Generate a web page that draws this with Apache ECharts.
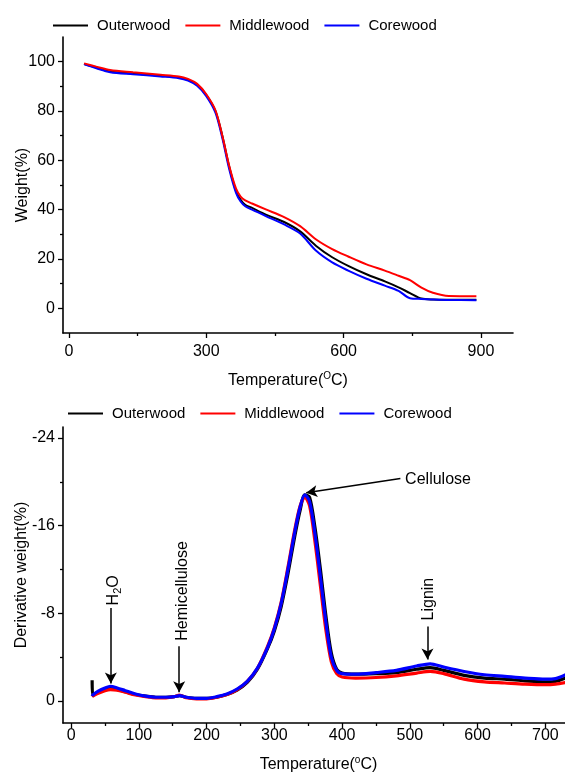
<!DOCTYPE html>
<html><head><meta charset="utf-8">
<script src="https://cdn.jsdelivr.net/npm/echarts@6/dist/echarts.min.js"></script>
<style>html,body{margin:0;padding:0;background:#fff}#c{width:565px;height:774px}</style>
</head><body><div id="c"></div>
<script>
const seriesNames = ['Outerwood', 'Middlewood', 'Corewood'];

// TGA (top panel)
const tgaTemp   = [33, 60, 90, 140, 200, 240, 260, 280, 300, 320, 335, 350, 365, 375, 385, 400, 430, 470, 505, 540, 575, 610, 650, 690, 720, 745, 770, 795, 830, 890];
const tgaOuter  = [99.0, 97.6, 96.0, 95.2, 94.3, 93.6, 92.6, 90.6, 86.5, 80.0, 70.0, 57.5, 47.5, 44.0, 42.0, 40.7, 38.0, 35.0, 31.2, 25.3, 20.7, 17.2, 13.8, 10.9, 8.5, 6.2, 4.0, 3.6, 3.5, 3.5];
const tgaMiddle = [99.3, 98.0, 96.6, 95.7, 94.7, 94.0, 93.0, 91.0, 86.8, 80.3, 70.0, 57.8, 48.5, 45.3, 43.8, 42.5, 40.1, 37.0, 33.3, 27.9, 24.0, 21.0, 17.8, 15.3, 13.2, 11.4, 8.4, 6.3, 5.0, 4.9];
const tgaCore   = [99.0, 97.3, 95.7, 94.9, 94.0, 93.3, 92.3, 90.2, 86.0, 79.3, 69.0, 56.5, 46.8, 43.3, 41.4, 40.0, 37.4, 34.0, 30.3, 23.3, 18.6, 15.3, 12.0, 9.2, 7.1, 4.1, 3.8, 3.6, 3.4, 3.3];

// DTG (bottom panel)
const dtgTemp   = [31, 32, 40, 50, 58, 68, 80, 95, 110, 125, 140, 152, 160, 170, 185, 200, 215, 230, 245, 260, 275, 290, 300, 310, 320, 330, 338, 345, 352, 360, 368, 376, 384, 392, 400, 420, 450, 480, 510, 530, 550, 580, 610, 640, 670, 700, 715, 730];
const dtgOuter  = [-1.9, -0.5, -0.8, -1.05, -1.15, -1.05, -0.85, -0.6, -0.45, -0.35, -0.35, -0.4, -0.5, -0.35, -0.25, -0.25, -0.35, -0.6, -1.0, -1.7, -2.9, -4.8, -6.4, -8.6, -11.6, -15.0, -17.4, -18.8, -18.6, -15.8, -12.0, -7.8, -4.4, -2.9, -2.55, -2.45, -2.5, -2.6, -2.9, -3.05, -2.8, -2.35, -2.1, -2.0, -1.85, -1.75, -1.8, -2.1];
const dtgMiddle = [-0.4, -0.45, -0.7, -0.95, -1.05, -1.0, -0.8, -0.55, -0.4, -0.3, -0.3, -0.4, -0.55, -0.3, -0.2, -0.2, -0.35, -0.6, -1.05, -1.8, -3.0, -5.0, -6.7, -9.0, -12.2, -15.6, -17.8, -18.6, -17.8, -14.5, -10.5, -6.5, -3.6, -2.5, -2.2, -2.1, -2.15, -2.3, -2.55, -2.7, -2.5, -2.0, -1.75, -1.65, -1.55, -1.5, -1.55, -1.7];
const dtgCore   = [-0.45, -0.55, -0.9, -1.2, -1.35, -1.2, -0.95, -0.65, -0.45, -0.35, -0.35, -0.4, -0.5, -0.35, -0.25, -0.25, -0.4, -0.65, -1.1, -1.8, -3.0, -4.9, -6.6, -8.9, -12.0, -15.4, -17.7, -18.8, -18.2, -15.2, -11.3, -7.2, -4.0, -2.8, -2.5, -2.45, -2.6, -2.8, -3.2, -3.4, -3.1, -2.7, -2.4, -2.25, -2.1, -2.0, -2.05, -2.4];

// Tick labels
const tgaXTicks = [0, 300, 600, 900];
const tgaXMinor = [150, 450, 750];
const tgaYTicks = [0, 20, 40, 60, 80, 100];
const tgaYMinor = [10, 30, 50, 70, 90];
const dtgXTicks = [0, 100, 200, 300, 400, 500, 600, 700];
const dtgXMinor = [50, 150, 250, 350, 450, 550, 650, 750];
const dtgYTicks = [-24, -16, -8, 0];
const dtgYMinor = [-20, -12, -4];

// Peak annotations (data coordinates)
const peakLabels = ['{n|H}{s|2}{n|O}', 'Hemicellulose', 'Cellulose', 'Lignin'];
const arrowFrom  = [[58.6, -8.5], [159.5, -5.0], [486, -20.3], [526, -6.8]];
const arrowTo    = [[58.6, -1.6], [159.5, -0.8], [347, -19.0], [526, -3.8]];
const labelAt    = [[62, -10.1], [164, -10.05], [493, -20.2], [528, -9.3]];

const colors = ['#000000', '#ff0000', '#0000ff'];
const FONT = '"Liberation Sans", Arial, sans-serif';
const pairs = (xs, ys) => xs.map((x, i) => [x, ys[i]]);

function mainX(grid, min, max, ticks, margin, gap, sup, namePad) {
  return {
    type: 'value', gridIndex: grid, min: min, max: max, position: 'bottom',
    name: 'Temperature({sup|' + sup + '}C)', nameLocation: 'middle', nameGap: gap, nameMoveOverlap: false,
    nameTextStyle: { fontSize: 16, color: '#000', fontFamily: FONT, lineHeight: 20, padding: namePad,
      rich: { sup: { fontSize: 10, verticalAlign: 'top', lineHeight: 20, padding: [0, 0, 6, 0], fontFamily: FONT, color: '#000' } } },
    axisLine: { show: true, onZero: false, lineStyle: { color: '#000', width: 1.6 } },
    axisTick: { show: true, inside: false, length: 5, customValues: ticks, lineStyle: { color: '#000', width: 1.3 } },
    axisLabel: { show: true, customValues: ticks, margin: margin, fontSize: 16, color: '#000', fontFamily: FONT, hideOverlap: false },
    splitLine: { show: false }
  };
}
function minorAxis(type, grid, min, max, ticks, inverse) {
  return {
    type: 'value', gridIndex: grid, min: min, max: max, inverse: !!inverse,
    position: type === 'x' ? 'bottom' : 'left', offset: 0,
    axisLine: { show: false, onZero: false },
    axisTick: { show: true, inside: false, length: 3, customValues: ticks, lineStyle: { color: '#000', width: 1.3 } },
    axisLabel: { show: false },
    splitLine: { show: false }
  };
}
function mainY(grid, min, max, ticks, name, gap, inverse) {
  return {
    type: 'value', gridIndex: grid, min: min, max: max, inverse: !!inverse, position: 'left',
    name: name, nameLocation: 'middle', nameGap: gap, nameRotate: 90, nameMoveOverlap: false,
    nameTextStyle: { fontSize: 16, color: '#000', fontFamily: FONT },
    axisLine: { show: true, onZero: false, lineStyle: { color: '#000', width: 1.6 } },
    axisTick: { show: true, inside: false, length: 5, customValues: ticks, lineStyle: { color: '#000', width: 1.3 } },
    axisLabel: { show: true, customValues: ticks, margin: 8, fontSize: 16, color: '#000', fontFamily: FONT },
    splitLine: { show: false }
  };
}

const legendBase = {
  icon: 'rect', itemWidth: 35, itemHeight: 2, itemGap: 15, padding: 0,
  textStyle: { fontSize: 15, color: '#000', fontFamily: FONT, padding: [0, 0, 0, 4] },
  data: seriesNames
};

const arrowLines = arrowFrom.map((f, i) => [{ coord: f }, { coord: arrowTo[i] }]);
const labelPoints = labelAt.map((c, i) => ({
  coord: c,
  label: i === 2
    ? { show: true, position: 'right', distance: 0, formatter: peakLabels[i], fontSize: 16, color: '#000', fontFamily: FONT }
    : { show: true, position: 'inside', rotate: 90, formatter: peakLabels[i], fontSize: 16, color: '#000', fontFamily: FONT,
        rich: { n: { fontSize: 16, lineHeight: 20, color: '#000', fontFamily: FONT },
                s: { fontSize: 11, verticalAlign: 'bottom', color: '#000', fontFamily: FONT, padding: [6, 0, 0, 0] } } }
}));

const topData = [tgaOuter, tgaMiddle, tgaCore];
const botData = [dtgOuter, dtgMiddle, dtgCore];
const topOrder = [0, 2, 1];
const botOrder = [0, 1, 2];
const series = [];
topOrder.forEach(k => series.push({
  type: 'line', name: seriesNames[k], xAxisIndex: 0, yAxisIndex: 0,
  data: pairs(tgaTemp, topData[k]), symbol: 'none', smooth: 0.3,
  lineStyle: { color: colors[k], width: 2 }, itemStyle: { color: colors[k] }, animation: false
}));
botOrder.forEach(k => series.push({
  type: 'line', name: seriesNames[k], xAxisIndex: 2, yAxisIndex: 2,
  data: pairs(dtgTemp, botData[k]), symbol: 'none', smooth: 0.3,
  lineStyle: { color: colors[k], width: 3.2 }, itemStyle: { color: colors[k] }, animation: false
}));
series.push({
  type: 'line', name: 'annotations', xAxisIndex: 2, yAxisIndex: 2, data: [], silent: true, animation: false,
  markLine: { silent: true, symbol: ['none', 'arrow'], symbolSize: [9, 11], animation: false,
    lineStyle: { color: '#000', width: 1.5, type: 'solid' }, label: { show: false }, data: arrowLines },
  markPoint: { silent: true, symbol: 'circle', symbolSize: 0, animation: false, data: labelPoints }
});

const chart = echarts.init(document.getElementById('c'), null, { renderer: 'canvas' });
chart.setOption({
  backgroundColor: '#fff',
  animation: false,
  textStyle: { fontFamily: FONT },
  legend: [
    Object.assign({}, legendBase, { left: 53, top: 18 }),
    Object.assign({}, legendBase, { left: 68, top: 406 })
  ],
  grid: [
    { left: 63, top: 37, width: 450, height: 296, containLabel: false, outerBoundsMode: 'none' },
    { left: 63, top: 427, width: 523, height: 296, containLabel: false, outerBoundsMode: 'none' }
  ],
  xAxis: [
    mainX(0, -13, 970, tgaXTicks, 11, 38, 'O', [0, 0, 0, 0]),
    minorAxis('x', 0, -13, 970, tgaXMinor),
    mainX(1, -12, 760, dtgXTicks, 5, 32, 'o', [0, 12, 0, 0]),
    minorAxis('x', 1, -12, 760, dtgXMinor)
  ],
  yAxis: [
    mainY(0, -10, 110, tgaYTicks, 'Weight(%)', 32),
    minorAxis('y', 0, -10, 110, tgaYMinor),
    mainY(1, -25, 2, dtgYTicks, 'Derivative weight(%)', 33, true),
    minorAxis('y', 1, -25, 2, dtgYMinor, true)
  ],
  series: series
});
</script>
</body></html>
